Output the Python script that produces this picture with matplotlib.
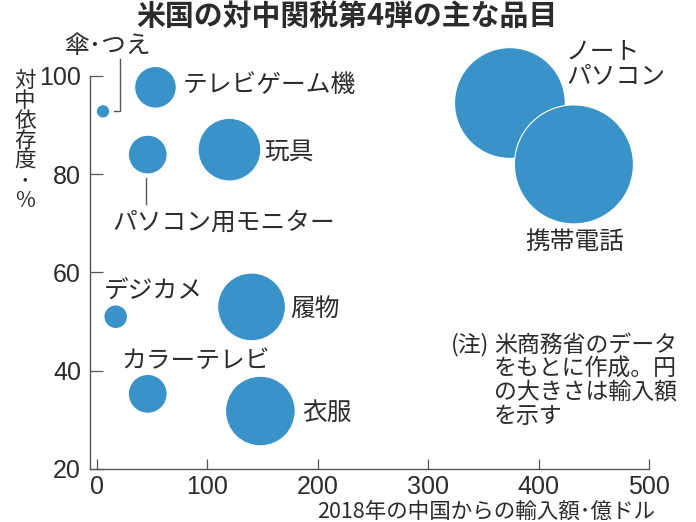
import matplotlib
matplotlib.use('Agg')
from matplotlib import pyplot as plt

plt.rcParams['font.family'] = ['Noto Sans CJK JP', 'DejaVu Sans']

title = '米国の対中関税第4弾の主な品目'
x_label = '2018年の中国からの輸入額･億ドル'
y_label = '対\n中\n依\n存\n度\n･\n%'
note_mark = '(注)'
note_lines = ['米商務省のデータ', 'をもとに作成。円', 'の大きさは輸入額', 'を示す']

items = ['ノート\nパソコン', '携帯電話', 'テレビゲーム機', '傘･つえ', 'パソコン用モニター',
         '玩具', 'デジカメ', '履物', 'カラーテレビ', '衣服']
imports = [374, 432, 53, 5.5, 46, 120, 17, 140, 46, 148]
reliance = [94.5, 82, 97.7, 92.8, 84, 85, 51, 53, 35.3, 31.8]

x_ticks = [0, 100, 200, 300, 400, 500]
y_ticks = [20, 40, 60, 80, 100]

blue = '#3a93c8'
ink = '#2b2b2b'
grey = '#555555'


def px(x, y):
    # reference pixels -> figure fraction
    return x / 696., 1. - y / 522.


fig = plt.figure(figsize=(6.96, 5.22), dpi=100)
ax = fig.add_axes([90 / 696., 1. - 469 / 522., (649 - 90) / 696., (469 - 76) / 522.])

ax.scatter(imports, reliance, s=[17. * v for v in imports], color=blue,
           edgecolors='white', linewidths=0.8, zorder=3, clip_on=False)

ax.set_xlim(-6.3, 500)
ax.set_ylim(20, 100)
ax.set_xticks(x_ticks)
ax.set_yticks(y_ticks)
ax.spines[['top', 'right']].set_visible(False)
for s in ['left', 'bottom']:
    ax.spines[s].set_color(grey)
    ax.spines[s].set_linewidth(1.0)
ax.tick_params(axis='x', direction='in', length=7.5, width=0.9, color=grey, pad=4.5,
               labelsize=18, labelcolor=ink)
ax.tick_params(axis='y', direction='in', length=9.5, width=0.9, color=grey, pad=6.5,
               labelsize=18, labelcolor=ink)
for t in ax.get_xticklabels() + ax.get_yticklabels():
    t.set_fontfamily('Liberation Sans')

fig.text(*px(347, 16), title, fontsize=20.8, fontweight='bold', color=ink, ha='center', va='center')
fig.text(*px(486, 512), x_label, fontsize=15.5, color=ink, ha='center', va='center')
fig.text(*px(25, 141), y_label, fontsize=15.5, color=ink, ha='center', va='center', linespacing=0.88)

# label anchors in reference pixels, same order as items
label_xs = [566, 575, 269, 107, 224, 289, 153, 315, 196, 327]
label_ys = [64, 242, 85, 46, 223, 152, 291, 309, 361, 413]
for k, txt in enumerate(items):
    ha = 'left' if k == 0 else 'center'
    fig.text(*px(label_xs[k], label_ys[k]), txt, fontsize=17.8, color=ink, ha=ha, va='center',
             linespacing=0.95)

# leader lines
fig.add_artist(plt.Line2D([114 / 696., 120 / 696., 120 / 696.],
                          [1 - 111 / 522., 1 - 111 / 522., 1 - 59 / 522.], color=grey, lw=1.0))
fig.add_artist(plt.Line2D([146 / 696., 146 / 696.],
                          [1 - 178 / 522., 1 - 204 / 522.], color=grey, lw=1.0))

fig.text(*px(470, 345), note_mark, fontsize=16.5, color=ink, ha='center', va='center')
for i, line in enumerate(note_lines):
    fig.text(*px(494, 345 + i * 23.7), line, fontsize=16.5, color=ink, ha='left', va='center')

fig.savefig('out.png', dpi=100)
